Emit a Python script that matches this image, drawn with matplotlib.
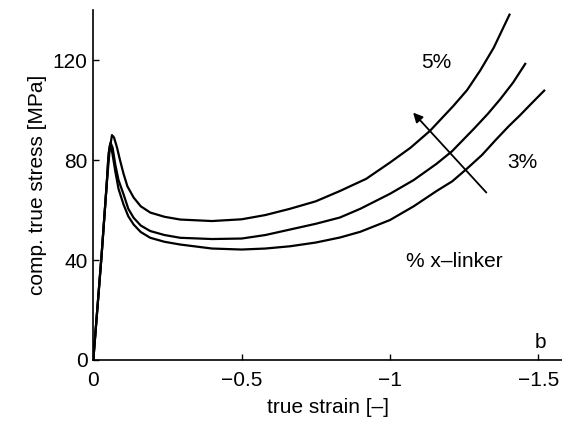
import matplotlib
matplotlib.use("Agg")
import matplotlib.pyplot as plt

# strain values are compressive (negative)
strain_5 = [0, -0.028, -0.045, -0.055, -0.063, -0.070, -0.080, -0.090, -0.102, -0.115,
            -0.136, -0.160, -0.192, -0.240, -0.293, -0.40, -0.50, -0.58, -0.663, -0.75,
            -0.831, -0.92, -1.0, -1.07, -1.135, -1.214, -1.26, -1.304, -1.35, -1.403]
stress_5 = [0, 42, 70, 84, 90, 89, 85, 80, 74.5, 69.5,
            65, 61.5, 59, 57.3, 56.2, 55.6, 56.3, 58, 60.5, 63.5,
            67.6, 72.5, 79, 85, 91.7, 101.7, 108, 115.8, 125, 138.2]

strain_4 = [0, -0.028, -0.045, -0.052, -0.058, -0.065, -0.074, -0.085, -0.102, -0.118,
            -0.136, -0.160, -0.192, -0.240, -0.293, -0.40, -0.50, -0.58, -0.663, -0.75,
            -0.831, -0.90, -1.0, -1.08, -1.157, -1.209, -1.282, -1.33, -1.372, -1.415, -1.456]
stress_4 = [0, 42, 70, 83, 87, 85, 78.3, 72, 66.3, 60.5,
            56.9, 53.8, 51.6, 50, 48.9, 48.4, 48.6, 50, 52.2, 54.5,
            57, 60.5, 66.5, 72, 78.5, 83.5, 92.4, 98.5, 104.4, 111, 118.5]

strain_3 = [0, -0.028, -0.045, -0.050, -0.056, -0.064, -0.074, -0.085, -0.102, -0.118,
            -0.136, -0.160, -0.192, -0.240, -0.293, -0.40, -0.50, -0.58, -0.663, -0.75,
            -0.831, -0.90, -1.0, -1.08, -1.157, -1.21, -1.259, -1.31, -1.36, -1.40,
            -1.439, -1.48, -1.52]
stress_3 = [0, 42, 70, 80, 86, 83, 75.6, 68.5, 62.2, 57.5,
            54.2, 51.2, 48.9, 47.3, 46.2, 44.6, 44.2, 44.6, 45.5, 47,
            49, 51.3, 56, 61.5, 67.6, 71.5, 76.5, 82, 88.5, 93.5,
            98, 103, 107.8]

x_ticks = [0, -0.5, -1, -1.5]
x_tick_labels = ["0", "\u22120.5", "\u22121", "\u22121.5"]
y_ticks = [0, 40, 80, 120]

plt.rcParams["font.family"] = ["Liberation Sans", "DejaVu Sans"]
plt.rcParams["font.size"] = 15

fig = plt.figure(figsize=(5.62, 4.23), dpi=100)
ax = fig.add_axes([0.166, 0.149, 0.834, 0.827])

for sx, sy in [(strain_5, stress_5), (strain_4, stress_4), (strain_3, stress_3)]:
    ax.plot(sx, sy, color="black", linewidth=1.6, solid_joinstyle="round")

ax.set_xlim(0, -1.58)
ax.set_ylim(0, 140)
ax.set_xticks(x_ticks)
ax.set_xticklabels(x_tick_labels)
ax.set_yticks(y_ticks)
ax.tick_params(direction="in", length=4, width=1)
ax.tick_params(axis="y", pad=4)
ax.tick_params(axis="x", pad=8)

for side in ["top", "right"]:
    ax.spines[side].set_visible(False)
for side in ["left", "bottom"]:
    ax.spines[side].set_linewidth(1.2)

ax.set_xlabel("true strain [\u2013]", labelpad=6)
ax.set_ylabel("comp. true stress [MPa]")

ax.text(-1.155, 119, "5%", ha="center", va="center")
ax.text(-1.445, 79, "3%", ha="center", va="center")
ax.text(-1.216, 39.5, "% x\u2013linker", ha="center", va="center")
ax.text(-1.506, 7, "b", ha="center", va="center")

ax.annotate("", xy=(-1.078, 99), xytext=(-1.325, 67),
            arrowprops=dict(arrowstyle="-|>", color="black", lw=1.3,
                            mutation_scale=14, shrinkA=0, shrinkB=0))

fig.savefig("out.png", dpi=100)
